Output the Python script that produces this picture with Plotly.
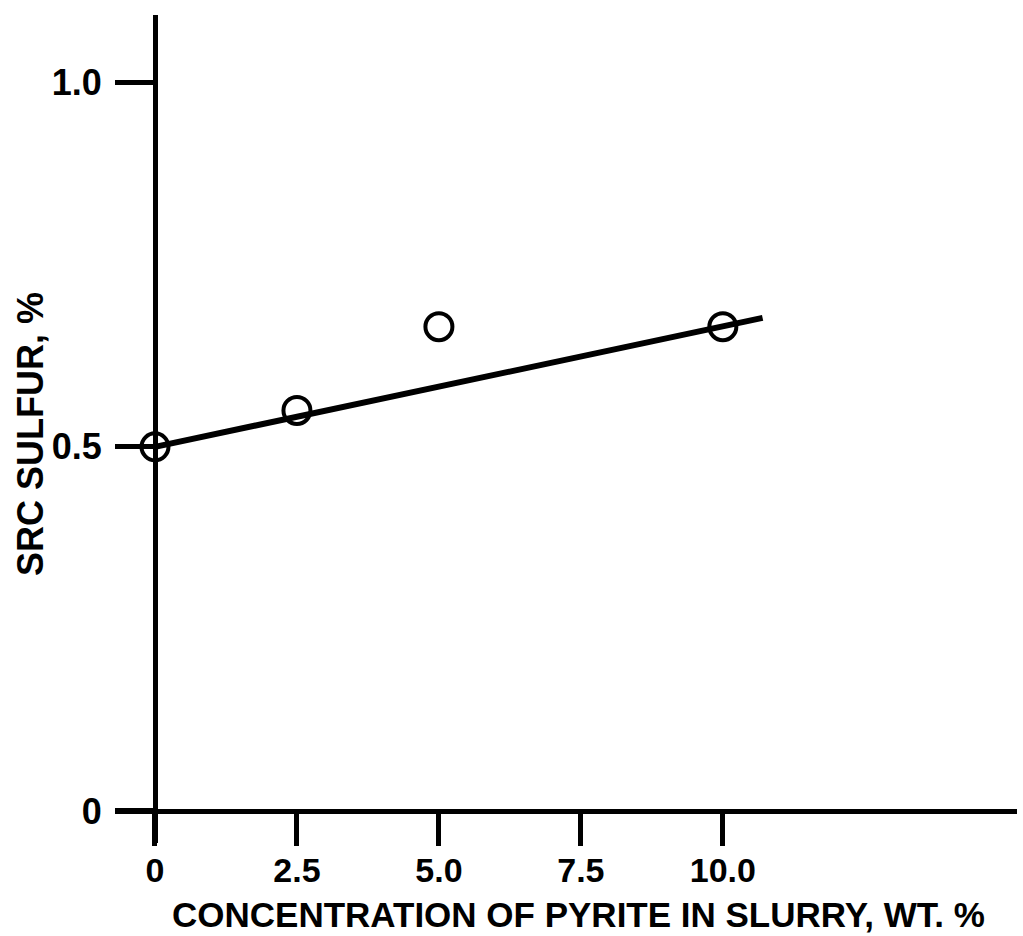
import plotly.graph_objects as go

# Measured SRC sulfur content vs. pyrite concentration in the slurry
pyrite_wt_pct = [0.0, 2.5, 5.0, 10.0]
src_sulfur_pct = [0.50, 0.55, 0.665, 0.665]

# Straight-line fit drawn through the data
fit_x = [0.0, 10.7]
fit_y = [0.50, 0.677]

x_tick_vals = [0.0, 2.5, 5.0, 7.5, 10.0]
x_tick_text = ["0", "2.5", "5.0", "7.5", "10.0"]
y_tick_vals = [0.0, 0.5, 1.0]
y_tick_text = ["0", "0.5", "1.0"]

x_title = "CONCENTRATION OF PYRITE IN SLURRY, WT. %"
y_title = "SRC SULFUR, %"

W, H = 1023, 936
L, R, T, B = 115, 6, 15, 93
PW, PH = W - L - R, H - T - B

FONT = "Liberation Sans, Arial, Helvetica, sans-serif"
INK = "#000000"


def px_x(p):
    return (p - L) / PW


def px_y(p):
    return (H - B - p) / PH


fig = go.Figure()

fig.add_trace(go.Scatter(
    x=fit_x, y=fit_y, mode="lines",
    line=dict(color=INK, width=6),
    hoverinfo="skip", showlegend=False,
))

fig.add_trace(go.Scatter(
    x=pyrite_wt_pct, y=src_sulfur_pct, mode="markers",
    marker=dict(symbol="circle-open", size=27, color=INK,
                line=dict(color=INK, width=4)),
    showlegend=False,
))

fig.update_layout(
    width=W, height=H,
    margin=dict(l=L, r=R, t=T, b=B, pad=0),
    paper_bgcolor="white", plot_bgcolor="white",
    font=dict(family=FONT, color=INK),
    xaxis=dict(
        range=[-0.704, 15.18],
        anchor="free", position=px_y(811),
        showline=True, linecolor=INK, linewidth=5,
        ticks="outside", ticklen=32, tickwidth=5, tickcolor=INK,
        tickvals=x_tick_vals, ticktext=x_tick_text,
        ticklabelstandoff=-5,
        tickfont=dict(family=FONT, size=34, color=INK, weight="bold"),
        showgrid=False, zeroline=False,
    ),
    yaxis=dict(
        range=[-0.044, 1.093],
        anchor="free", position=px_x(155),
        showline=True, linecolor=INK, linewidth=5,
        ticks="outside", ticklen=38, tickwidth=5, tickcolor=INK,
        tickvals=y_tick_vals, ticktext=y_tick_text,
        ticklabelstandoff=6,
        tickfont=dict(family=FONT, size=36, color=INK, weight="bold"),
        showgrid=False, zeroline=False,
    ),
    annotations=[
        dict(text=x_title, xref="paper", yref="paper",
             x=px_x(578), y=px_y(914), xanchor="center", yanchor="middle",
             showarrow=False,
             font=dict(family=FONT, size=35, color=INK, weight="bold")),
        dict(text=y_title, xref="paper", yref="paper",
             x=px_x(30), y=px_y(434), xanchor="center", yanchor="middle",
             textangle=-90, showarrow=False,
             font=dict(family=FONT, size=36, color=INK, weight="bold")),
    ],
)

fig.write_html("out.html")
